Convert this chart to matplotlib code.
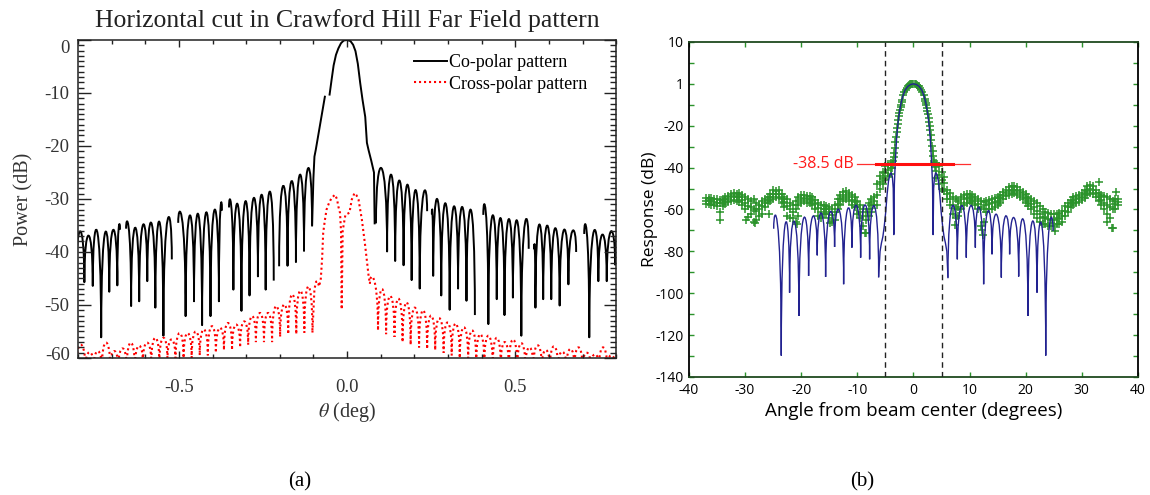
import matplotlib
matplotlib.use("Agg")
import matplotlib.pyplot as plt
import matplotlib.transforms as mtransforms
from matplotlib.path import Path
from matplotlib.patches import PathPatch
from matplotlib.lines import Line2D
from matplotlib.ticker import MultipleLocator

plt.rcParams['axes.unicode_minus'] = False
plt.rcParams['mathtext.fontset'] = 'stix'

# ---------------- panel (a): Crawford Hill horizontal cut ----------------
# co-polar sidelobes, one list per unbroken piece of the curve:
# null angles, levels at those nulls, and the peak of each lobe between them
co_nulls_x = [
    [-0.806, -0.781, -0.756, -0.731, -0.707, -0.683, -0.675],
    [-0.657, -0.642, -0.618, -0.594, -0.570, -0.546, -0.521],
    [-0.502, -0.480, -0.455, -0.431, -0.406, -0.381, -0.372],
    [-0.351, -0.338, -0.314, -0.290, -0.265, -0.242, -0.218],
    [-0.202, -0.177, -0.152, -0.128, -0.104],
    [0.086, 0.119, 0.143, 0.168, 0.192, 0.216, 0.238],
    [0.252, 0.256, 0.280, 0.305, 0.330, 0.355, 0.380],
    [0.405, 0.420, 0.445, 0.468, 0.493, 0.518, 0.540],
    [0.556, 0.560, 0.583, 0.607, 0.632, 0.658, 0.681],
    [0.705, 0.720, 0.747, 0.772, 0.797, 0.821],
]
co_nulls_db = [
    [-46.0, -45.7, -46.4, -56.1, -47.5, -46.3, -35.8],
    [-35.6, -50.2, -49.3, -45.5, -50.5, -55.8, -41.4],
    [-34.5, -52.1, -49.3, -53.8, -52.1, -49.3, -32.2],
    [-31.6, -47.1, -51.1, -48.2, -44.6, -47.1, -45.4],
    [-42.7, -42.6, -41.9, -39.8, -35.0],
    [-34.6, -39.9, -41.7, -42.5, -45.3, -46.9, -32.3],
    [-32.9, -44.5, -48.2, -50.9, -46.9, -49.2, -51.9],
    [-33.0, -53.6, -48.9, -51.9, -48.6, -55.8, -39.4],
    [-39.5, -50.5, -48.9, -48.9, -50.1, -46.1, -40.0],
    [-36.6, -56.1, -45.5, -45.5, -42.4, -46.0],
]
co_peaks_db = [
    [-36.1, -36.9, -36.0, -36.3, -35.8, -35.5],
    [-35.3, -35.4, -34.8, -34.5, -34.3, -33.9],
    [-33.6, -33.1, -32.8, -32.5, -32.0, -31.9],
    [-31.2, -30.9, -30.4, -29.8, -29.2, -28.6],
    [-27.5, -26.6, -25.4, -24.2],
    [-24.2, -25.4, -26.5, -27.3, -28.3, -29.1],
    [-32.8, -30.0, -30.8, -31.4, -31.5, -32.0],
    [-32.5, -33.1, -33.6, -33.8, -34.1, -34.5],
    [-39.3, -34.8, -35.0, -35.5, -35.8, -36.1],
    [-36.2, -36.1, -36.7, -36.1, -36.0],
]
# main beam, drawn as two pieces (small break on the left flank)
beam_a_x = [-0.104, -0.100, -0.097, -0.093, -0.066]
beam_a_db = [-35.0, -26.0, -22.0, -20.7, -10.7]
beam_b_x = [-0.052, -0.046, -0.040, -0.033, -0.026, -0.018, -0.010, 0.0, 0.010,
            0.018, 0.025, 0.032, 0.039, 0.046, 0.054, 0.059, 0.064, 0.072, 0.080, 0.082]
beam_b_db = [-10.3, -7.5, -4.8, -2.8, -1.6, -0.6, -0.1, 0.0, -0.2,
             -0.9, -2.1, -4.5, -8.1, -11.3, -14.5, -19.4, -20.8, -22.8, -25.0, -34.6]

# cross-polar pattern
xp_left_nulls_x = [-0.805, -0.778, -0.753, -0.729, -0.704, -0.680, -0.655, -0.631, -0.607, -0.582,
                   -0.558, -0.534, -0.510, -0.486, -0.462, -0.438, -0.414, -0.390, -0.366, -0.342,
                   -0.318, -0.294, -0.271, -0.247, -0.223, -0.199, -0.175, -0.151, -0.127, -0.103]
xp_left_nulls_db = [-62, -62, -62, -62, -62, -62, -62, -62, -61, -61,
                    -61, -60.5, -60.5, -60, -60, -59.5, -59.5, -59, -58.5, -58.5,
                    -58, -57.5, -57, -57, -57, -56, -55.5, -55.5, -55.2, -55.2]
xp_left_peaks_db = [-57.5, -58.9, -58.7, -57.1, -58.7, -58.2, -57.1, -57.7, -57.1, -56.2,
                    -56.2, -56.5, -55.3, -55.3, -55.0, -54.6, -54.0, -54.3, -53.4, -53.7,
                    -53.1, -52.1, -51.5, -51.5, -50.2, -49.9, -48.0, -47.3, -46.5]
xp_main_x = [-0.103, -0.097, -0.092, -0.088, -0.083, -0.078, -0.074, -0.071, -0.066, -0.061,
             -0.054, -0.046, -0.036, -0.030, -0.026, -0.021, -0.018, -0.016, -0.013, -0.005,
             0.007, 0.014, 0.022, 0.028, 0.034, 0.044, 0.054, 0.064, 0.068]
xp_main_db = [-55.2, -47.0, -45.6, -45.5, -46.5, -45.0, -41.0, -36.4, -34.0, -32.0,
              -30.8, -29.8, -29.2, -30.0, -31.4, -32.6, -36.0, -50.8, -36.0, -33.0,
              -32.6, -30.1, -28.9, -29.3, -30.1, -33.9, -38.9, -44.5, -46.0]
xp_right_nulls_x = [0.068, 0.092, 0.116, 0.141, 0.165, 0.189, 0.214, 0.238, 0.262, 0.287, 0.311,
                    0.335, 0.360, 0.384, 0.408, 0.433, 0.457, 0.481, 0.506, 0.530, 0.554,
                    0.579, 0.603, 0.627, 0.652, 0.676, 0.700, 0.725, 0.749, 0.773, 0.798, 0.822]
xp_right_nulls_db = [-46.0, -54.8, -55.5, -56.0, -57.0, -57.5, -58.0, -58.3, -58.5, -59.0, -59.5,
                     -60.0, -60.5, -61, -61, -61.5, -61.5, -62, -62, -62, -62,
                     -62, -62, -62, -62, -62, -62, -62, -62, -62, -62, -62]
xp_right_peaks_db = [-45.2, -47.0, -48.3, -48.8, -49.5, -50.5, -51.0, -52.0, -52.5, -53.3,
                     -53.5, -54.2, -54.8, -55.5, -55.8, -56.2, -57.0, -56.5, -57.2, -58.0,
                     -57.6, -58.5, -57.8, -58.8, -58.3, -58.0, -59.0, -59.3, -58.0, -59.5, -58.5]

# ---------------- panel (b): measured vs model beam ----------------
model_left_nulls_x = [-24.9, -23.55, -22.07, -20.40, -18.68, -17.14, -15.65, -14.05, -12.44,
                      -10.96, -9.41, -7.81, -6.20]
model_left_nulls_db = [-69.2, -129.8, -99.7, -110.8, -91.7, -81.9, -92.2, -77.9, -95.7,
                       -78.2, -83.0, -83.8, -92.2]
model_left_peaks_db = [-67.0, -66.5, -65.7, -64.0, -63.2, -61.8, -61.2, -60.2, -59.6, -58.0, -57.8, -58.2]
model_right_nulls_x = [6.15, 7.82, 9.42, 11.03, 12.51, 14.00, 15.66, 17.14, 18.75, 20.41, 22.02, 23.57, 24.87]
model_right_nulls_db = [-92.5, -83.8, -83.0, -78.2, -95.7, -81.4, -92.5, -81.4, -92.0, -110.8, -99.7, -129.8, -70.3]
model_right_peaks_db = [-58.1, -58.1, -58.1, -59.2, -60.8, -62.4, -63.2, -64.0, -64.8, -65.6, -66.7, -67.9]
model_main_x = [-6.20, -5.95, -5.70, -5.45, -5.20, -4.95, -4.70, -4.45, -4.20, -3.95, -3.75, -3.60,
                -3.50, -3.40, -3.25, -3.00, -2.75, -2.50, -2.20, -1.90, -1.50, -1.00, -0.50, 0.00,
                0.50, 1.00, 1.50, 1.90, 2.20, 2.50, 2.75, 3.00, 3.25, 3.40, 3.50, 3.60, 3.75,
                3.95, 4.20, 4.45, 4.70, 4.95, 5.20, 5.45, 5.70, 5.95, 6.15]
model_main_db = [-92.2, -80.0, -76.0, -73.0, -68.0, -61.5, -53.0, -46.5, -43.3, -42.5, -44.5, -50.0,
                 -72.0, -48.0, -38.0, -26.0, -18.7, -13.5, -9.0, -6.0, -3.0, -1.2, -0.3, 0.0,
                 -0.3, -1.2, -3.0, -6.0, -9.0, -13.5, -18.7, -26.0, -38.0, -48.0, -72.0, -50.0, -44.5,
                 -42.5, -43.3, -46.5, -53.0, -61.5, -68.0, -73.0, -76.0, -80.0, -92.5]

# measured points: sidelobe band read as upper / middle / lower edge
band_x = [-37.0, -36.5, -36.0, -35.5, -35.0, -34.5, -34.0, -33.5, -33.0, -32.5, -32.0, -31.5,
          -31.0, -30.5, -30.0, -29.5, -29.0, -28.5, -28.0, -27.5, -27.0, -26.5, -26.0, -25.5,
          -25.0, -24.5, -24.0, -23.5, -23.0, -22.5, -22.0, -21.5, -21.0, -20.5, -20.0, -19.5,
          -19.0, -18.5, -18.0, -17.5, -17.0, -16.5, -16.0, -15.5, -15.0, -14.5, -14.0, -13.5,
          -13.0, -12.5, -12.0, -11.5, -11.0, -10.5, -10.0, -9.5, -9.0, -8.5, -8.0, -7.5, -7.0,
          6.0, 6.5, 7.0, 7.5, 8.0, 8.5, 9.0, 9.5, 10.0, 10.5, 11.0, 11.5, 12.0, 12.5, 13.0,
          13.5, 14.0, 14.5, 15.0, 15.5, 16.0, 16.5, 17.0, 17.5, 18.0, 18.5, 19.0, 19.5, 20.0,
          20.5, 21.0, 21.5, 22.0, 22.5, 23.0, 23.5, 24.0, 24.5, 25.0, 25.5, 26.0, 26.5, 27.0,
          27.5, 28.0, 28.5, 29.0, 29.5, 30.0, 30.5, 31.0, 31.5, 32.0, 32.5, 33.0, 33.5, 34.0,
          34.5, 35.0, 35.5, 36.0, 36.5]
band_hi = [-54.5, -54.5, -54.5, -55.0, -55.0, -55.5, -55.0, -54.0, -53.5, -52.5, -52.0, -52.5,
           -52.0, -53.0, -54.0, -55.0, -56.0, -55.0, -57.0, -58.0, -56.0, -55.0, -54.0, -52.5,
           -50.5, -51.0, -50.5, -52.5, -54.0, -55.0, -57.0, -58.0, -56.0, -54.0, -53.0, -53.0,
           -53.5, -53.5, -54.0, -55.5, -57.0, -58.0, -58.0, -58.5, -59.0, -60.0, -58.0, -55.0,
           -53.0, -51.5, -51.0, -52.0, -53.0, -54.0, -56.0, -58.0, -60.0, -61.0, -57.0, -55.0, -54.0,
           -50.5, -52.0, -54.0, -55.0, -56.0, -54.0, -53.0, -52.5, -52.5, -53.0, -54.0, -55.0,
           -56.0, -56.5, -56.0, -55.5, -55.0, -54.5, -54.0, -53.0, -51.5, -50.5, -49.5, -49.0,
           -49.0, -49.5, -50.5, -51.5, -52.5, -54.0, -55.0, -56.0, -57.0, -58.5, -60.0, -61.0,
           -61.5, -62.0, -62.0, -62.0, -61.5, -60.5, -58.5, -57.0, -55.5, -54.0, -53.5, -53.0,
           -52.0, -50.5, -49.0, -48.5, -49.0, -50.5, -52.0, -53.0, -53.5, -54.0, -55.0, -56.0,
           -55.0, -55.0]
band_mid = [-56.0, -55.5, -56.0, -56.5, -57.0, -57.0, -56.5, -55.5, -55.0, -54.0, -53.5, -54.0,
            -54.0, -55.5, -57.0, -58.5, -59.0, -60.0, -60.5, -60.0, -58.5, -57.0, -55.5, -54.0,
            -52.5, -52.5, -52.5, -55.0, -56.5, -58.5, -60.0, -61.0, -60.0, -58.0, -55.0, -54.5,
            -55.0, -55.0, -56.0, -57.5, -59.5, -61.0, -60.0, -60.0, -61.0, -62.5, -61.0, -57.5,
            -55.0, -54.0, -53.0, -54.0, -55.5, -56.5, -59.0, -61.0, -63.0, -65.0, -60.0, -58.0, -56.0,
            -52.5, -55.0, -58.0, -60.0, -59.0, -57.0, -55.0, -54.5, -54.0, -55.0, -56.0, -57.5,
            -59.0, -60.0, -58.0, -57.5, -57.0, -56.5, -56.0, -54.5, -53.0, -52.0, -51.0, -50.5,
            -50.5, -51.0, -52.0, -53.0, -54.5, -56.0, -57.5, -59.0, -60.5, -62.0, -63.5, -64.0,
            -64.5, -65.0, -65.0, -64.5, -64.0, -63.0, -60.5, -59.0, -57.0, -56.0, -55.0, -54.5,
            -54.0, -52.5, -51.0, -50.0, -50.5, -52.0, -54.0, -55.5, -57.0, -58.0, -59.0, -60.0,
            -57.5, -56.5]
band_lo = [-57.5, -57.5, -58.0, -58.0, -58.5, -61.0, -58.5, -57.5, -56.5, -56.0, -55.5, -56.0,
           -56.5, -58.0, -60.0, -63.5, -62.0, -66.0, -65.0, -63.0, -62.0, -59.0, -57.0, -56.0,
           -55.0, -54.0, -54.5, -57.0, -59.0, -63.0, -64.0, -64.0, -66.0, -63.0, -57.0, -56.0,
           -57.0, -57.0, -58.0, -60.0, -63.0, -64.0, -62.0, -62.0, -64.0, -66.0, -65.0, -60.0,
           -58.0, -56.0, -55.0, -56.0, -58.0, -59.0, -62.0, -64.0, -68.0, -71.0, -63.0, -61.0, -58.0,
           -55.0, -58.0, -62.0, -64.0, -63.0, -60.0, -58.0, -57.0, -56.0, -57.0, -58.0, -60.0,
           -68.0, -66.0, -61.0, -60.0, -60.0, -59.0, -58.0, -57.0, -55.0, -53.5, -53.0, -52.5,
           -52.0, -53.0, -54.0, -55.0, -57.0, -58.5, -60.0, -62.0, -64.0, -66.0, -67.0, -67.0,
           -68.0, -68.0, -68.0, -67.0, -67.0, -66.0, -63.0, -61.0, -59.0, -58.0, -57.0, -56.5,
           -55.5, -54.5, -53.0, -52.0, -52.5, -54.0, -56.0, -58.0, -60.0, -62.0, -64.0, -69.0,
           -60.0, -58.0]
# measured points on the main beam and its shoulders
beam_pts_x = [-6.5, -6.5, -6.5, -6.0, -6.0, -6.0, -5.5, -5.5, -5.5, -5.0, -5.0, -5.0,
              -4.5, -4.5, -4.5, -4.0, -4.0, -4.0,
              -3.8, -3.7, -3.6, -3.5, -3.4, -3.3, -3.2, -3.1, -3.0, -2.9, -2.8, -2.7, -2.6,
              -2.5, -2.4, -2.3, -2.2, -2.1, -2.0, -1.8, -1.6, -1.4, -1.2, -1.0, -0.8, -0.6,
              -0.4, -0.2, 0.0, 0.2, 0.4, 0.6, 0.8, 1.0, 1.2, 1.4, 1.6, 1.8, 2.0, 2.1, 2.2,
              2.3, 2.4, 2.5, 2.6, 2.7, 2.8, 2.9, 3.0, 3.1, 3.2, 3.3, 3.4, 3.5, 3.6, 3.7, 3.8,
              4.0, 4.0, 4.0, 4.5, 4.5, 4.5, 5.0, 5.0, 5.0, 5.5, 5.5, 5.5]
beam_pts_db = [-48.0, -53.0, -58.0, -44.0, -47.0, -50.0, -42.0, -45.0, -48.0, -39.0, -42.5, -46.0,
               -38.5, -41.0, -44.0, -38.0, -40.0, -43.0,
               -40.0, -38.5, -37.0, -35.0, -33.0, -30.5, -28.0, -25.5, -23.0, -21.0, -19.0, -17.2, -15.5,
               -14.0, -12.5, -11.2, -10.0, -8.7, -7.5, -5.5, -4.0, -2.8, -1.8, -1.1, -0.6, -0.3,
               -0.1, 0.0, 0.0, -0.1, -0.2, -0.4, -0.8, -1.2, -1.9, -2.8, -4.0, -5.3, -7.0, -8.0, -9.0,
               -10.2, -11.5, -13.0, -14.5, -16.2, -18.0, -20.0, -22.0, -24.5, -27.0, -29.5, -32.0, -34.5, -37.0, -38.0, -39.5,
               -38.0, -41.5, -45.0, -39.0, -43.5, -48.0, -42.0, -46.0, -50.0, -44.5, -47.5, -51.0]
stray_x = [-34.5, -29.8, -28.3, -25.8, -20.8, -14.8, -8.7, 7.4, 12.2, 12.4, 25.3, 33.0, 35.3, 36.1, 34.5]
stray_db = [-64.8, -65.0, -66.5, -62.0, -67.0, -66.5, -71.0, -67.5, -70.0, -72.0, -70.5, -47.0, -68.8, -51.5, -66.0]

level_db = -38.5
fov_edges = [-5.1, 5.0]

right_ticks = [20, 0, -20, -40, -60, -80, -100, -120, -140]
right_ticklabels = ['10', '1', '-20', '-40', '-60', '-80', '-100', '-120', '-140']


def lobes(ax, nx, ndb, pdb, **kw):
    # one arch per lobe: cubic bezier with vertical ends, so nulls come out as sharp spikes
    verts = [(nx[0], ndb[0])]
    codes = [Path.MOVETO]
    for i, p in enumerate(pdb):
        c = (8 * p - ndb[i] - ndb[i + 1]) / 6.0
        verts += [(nx[i], c), (nx[i + 1], c), (nx[i + 1], ndb[i + 1])]
        codes += [Path.CURVE4] * 3
    ax.add_patch(PathPatch(Path(verts, codes), fill=False, **kw))


fig = plt.figure(figsize=(11.5, 4.95), dpi=100)

serif = 'Liberation Serif'
sans = 'Open Sans'

# ---- (a)
ax1 = fig.add_axes([0.0678, 0.2768, 0.468, 0.6424])
co_style = dict(ec='black', lw=1.4, joinstyle='round', capstyle='butt')
for nx, nd, pk in zip(co_nulls_x, co_nulls_db, co_peaks_db):
    lobes(ax1, nx, nd, pk, **co_style)
ax1.plot(beam_a_x, beam_a_db, color='black', lw=1.4)
ax1.plot(beam_b_x, beam_b_db, color='black', lw=1.4)

xp_style = dict(ec='red', lw=1.5, ls=(0, (1, 1.4)))
lobes(ax1, xp_left_nulls_x, xp_left_nulls_db, xp_left_peaks_db, **xp_style)
lobes(ax1, xp_right_nulls_x, xp_right_nulls_db, xp_right_peaks_db, **xp_style)
ax1.plot(xp_main_x, xp_main_db, color='red', lw=1.5, ls=(0, (1, 1.4)))

ax1.set_xlim(-0.8, 0.8)
ax1.set_ylim(-60, 0)
ax1.set_xticks([-0.5, 0.0, 0.5])
ax1.set_xticklabels(['-0.5', '0.0', '0.5'])
ax1.xaxis.set_minor_locator(MultipleLocator(0.1))
ax1.set_yticks(range(-60, 1, 10))
ax1.yaxis.set_minor_locator(MultipleLocator(1))
ax1.tick_params(which='both', direction='in', top=True, right=True, colors='#222222',
                labelcolor='#333333', width=1.0)
ax1.tick_params(axis='x', which='major', length=5, pad=15)
ax1.tick_params(axis='x', which='minor', length=3)
ax1.tick_params(axis='y', which='major', length=9, pad=6)
ax1.tick_params(axis='y', which='minor', length=4.5)
for lab in ax1.get_xticklabels() + ax1.get_yticklabels():
    lab.set_fontfamily(serif)
    lab.set_fontsize(13.5)
# end labels sit a little inside the frame, as in the original
ylabs = ax1.get_yticklabels()
ylabs[-1].set_transform(ylabs[-1].get_transform() +
                        mtransforms.ScaledTranslation(0, -7 / 100, fig.dpi_scale_trans))
ylabs[0].set_transform(ylabs[0].get_transform() +
                       mtransforms.ScaledTranslation(0, 4 / 100, fig.dpi_scale_trans))
for s in ax1.spines.values():
    s.set_linewidth(1.1)
    s.set_color('#222222')
ax1.set_title('Horizontal cut in Crawford Hill Far Field pattern', family=serif,
              fontsize=18.5, color='#222222', pad=9)
ax1.set_ylabel('Power (dB)', family=serif, fontsize=14.5, color='#333333', labelpad=8)
ax1.set_xlabel(r'$\theta$ (deg)', family=serif, fontsize=14.5, color='#333333', labelpad=3)

handles = [Line2D([], [], color='black', lw=1.4), Line2D([], [], color='red', lw=1.5, ls=(0, (1, 1.4)))]
ax1.legend(handles, ['Co-polar pattern', 'Cross-polar pattern'], loc='upper left',
           bbox_to_anchor=(0.625, 0.955), frameon=False, handlelength=1.8, handletextpad=0.1,
           borderpad=0, borderaxespad=0, labelspacing=0.25,
           prop={'family': serif, 'size': 13})

# ---- (b)
ax2 = fig.add_axes([0.5991, 0.2384, 0.3904, 0.6768])
green = '#2b932b'
gstyle = dict(ls='none', marker='+', color=green, ms=5.5, mew=1.1, zorder=2)
ax2.plot(band_x, band_hi, **gstyle)
ax2.plot(band_x, band_mid, **gstyle)
ax2.plot(band_x, band_lo, **gstyle)
ax2.plot(beam_pts_x, beam_pts_db, **gstyle)
ax2.plot(stray_x, stray_db, **gstyle)

blue = '#222290'
lobes(ax2, model_left_nulls_x, model_left_nulls_db, model_left_peaks_db, ec=blue, lw=1.0, zorder=3)
lobes(ax2, model_right_nulls_x, model_right_nulls_db, model_right_peaks_db, ec=blue, lw=1.0, zorder=3)
ax2.plot(model_main_x, model_main_db, color=blue, lw=1.0, zorder=3)

for e in fov_edges:
    ax2.axvline(e, color='#222222', lw=1.0, ls=(0, (4, 3)), zorder=4)
ax2.plot([-10, 10], [level_db, level_db], color='#ff3030', lw=0.9, zorder=5)
ax2.plot([-6.6, 7.0], [level_db, level_db], color='#ff1010', lw=2.2, zorder=5)
ax2.text(-10.6, level_db, '-38.5 dB', color='#ff1a1a', family=sans, fontsize=11.5,
         ha='right', va='center', zorder=6)

ax2.set_xlim(-40, 40)
ax2.set_ylim(-140, 20)
ax2.set_xticks(range(-40, 41, 10))
ax2.set_yticks(right_ticks)
ax2.set_yticklabels(right_ticklabels)
ax2.yaxis.set_minor_locator(MultipleLocator(10))
ax2.tick_params(which='both', direction='in', top=True, right=True, length=3.5,
                color=green, width=1.0, labelsize=10, pad=4)
for lab in ax2.get_xticklabels() + ax2.get_yticklabels():
    lab.set_fontfamily(sans)
for side in ['top', 'bottom']:
    ax2.spines[side].set_color('#1f4a1f')
    ax2.spines[side].set_linewidth(1.3)
for side in ['left', 'right']:
    ax2.spines[side].set_color('black')
    ax2.spines[side].set_linewidth(1.3)
ax2.set_xlabel('Angle from beam center (degrees)', family=sans, fontsize=13.5, labelpad=3)
ax2.set_ylabel('Response (dB)', family=sans, fontsize=12.5, labelpad=-2)

fig.text(0.261, 0.026, '(a)', family=serif, fontsize=15, ha='center', va='center')
fig.text(0.750, 0.026, '(b)', family=serif, fontsize=15, ha='center', va='center')

fig.savefig('out.png', dpi=100)
